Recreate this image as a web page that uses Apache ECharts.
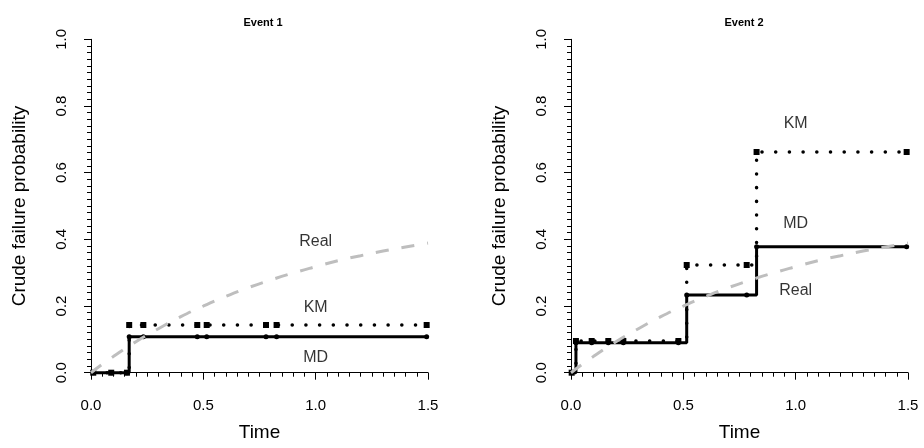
<!DOCTYPE html>
<html lang="en">
<head>
<meta charset="UTF-8">
<title>Crude failure probability</title>
<script src="https://cdn.jsdelivr.net/npm/echarts@6/dist/echarts.min.js"></script>
<style>
    html, body { margin: 0; padding: 0; background: #fff; }
    #chart { width: 924px; height: 448px; }
</style>
</head>
<body>
<div id="chart"></div>
<script>
    // Event 1: estimates at the observed times
    const time1 = [0.01, 0.09, 0.16, 0.17, 0.233, 0.473, 0.515, 0.779, 0.826, 1.494];
    const md1 = [0, 0, 0, 0.108, 0.108, 0.108, 0.108, 0.108, 0.108, 0.108];
    const km1 = [0, 0, 0, 0.143, 0.143, 0.143, 0.143, 0.143, 0.143, 0.143];

    // Event 2
    const time2 = [0.003, 0.022, 0.092, 0.166, 0.233, 0.478, 0.515, 0.782, 0.826, 1.494];
    const md2 = [0, 0.09, 0.09, 0.09, 0.09, 0.09, 0.233, 0.233, 0.378, 0.378];
    const km2 = [0, 0.095, 0.095, 0.095, 0.095, 0.095, 0.323, 0.323, 0.662, 0.662];

    // true curve (same in both panels)
    const realTime = [0, 0.1, 0.2, 0.3, 0.4, 0.5, 0.6, 0.7, 0.8, 0.9, 1.0, 1.1, 1.2, 1.3, 1.4, 1.5];
    const realProb = [0, 0.049, 0.093, 0.132, 0.168, 0.200, 0.229, 0.255, 0.278, 0.299, 0.318, 0.336, 0.351, 0.365, 0.377, 0.389];

    // text labels inside the panels
    const labels1 = ['Real', 'KM', 'MD'];
    const labelX1 = [1.0, 1.0, 1.0];
    const labelY1 = [0.393, 0.194, 0.044];
    const labels2 = ['KM', 'MD', 'Real'];
    const labelX2 = [1.0, 1.0, 1.0];
    const labelY2 = [0.746, 0.446, 0.246];

    const font = '"Liberation Sans", Arial, sans-serif';
    const pairs = (xs, ys) => xs.map((x, i) => [x, ys[i]]);

    function xAxisFor(idx) {
        return {
            gridIndex: idx, type: 'value', min: 0, max: 1.5, interval: 0.5, offset: 15,
            axisLine: {show: true, lineStyle: {color: '#000', width: 1}},
            axisTick: {show: true, length: 7, lineStyle: {color: '#000'}},
            minorTick: {show: true, splitNumber: 10, length: 4, lineStyle: {color: '#000'}},
            splitLine: {show: false},
            axisLabel: {color: '#000', fontSize: 15, fontFamily: font, margin: 11,
                showMinLabel: true, showMaxLabel: true, formatter: v => v.toFixed(1)},
            name: 'Time', nameLocation: 'middle', nameGap: 36,
            nameTextStyle: {color: '#000', fontSize: 19, fontFamily: font}
        };
    }

    function yAxisFor(idx) {
        return {
            gridIndex: idx, type: 'value', min: 0, max: 1, interval: 0.2, offset: 14,
            axisLine: {show: true, lineStyle: {color: '#000', width: 1}},
            axisTick: {show: true, length: 7, lineStyle: {color: '#000'}},
            minorTick: {show: true, splitNumber: 10, length: 4, lineStyle: {color: '#000'}},
            splitLine: {show: false},
            axisLabel: {color: '#000', fontSize: 15, fontFamily: font, margin: 8, rotate: 90,
                showMinLabel: true, showMaxLabel: true, formatter: v => v.toFixed(1)},
            name: 'Crude failure probability', nameLocation: 'middle', nameGap: 48,
            nameTextStyle: {color: '#000', fontSize: 19, fontFamily: font}
        };
    }

    function panelSeries(idx, t, md, km, lab, lx, ly) {
        return [
            {
                type: 'line', xAxisIndex: idx, yAxisIndex: idx, step: 'end', clip: false,
                data: pairs(t, km), symbol: 'rect', symbolSize: 6, showSymbol: true,
                itemStyle: {color: '#000'},
                lineStyle: {color: '#000', width: 3.5, type: [0.1, 13.6], cap: 'round'},
                z: 2
            },
            {
                type: 'line', xAxisIndex: idx, yAxisIndex: idx, step: 'end', clip: false,
                data: pairs(t, md), symbol: 'circle', symbolSize: 5, showSymbol: true,
                itemStyle: {color: '#000'},
                lineStyle: {color: '#000', width: 3},
                z: 3
            },
            {
                type: 'line', xAxisIndex: idx, yAxisIndex: idx, clip: false, smooth: true,
                data: pairs(realTime, realProb), showSymbol: false,
                lineStyle: {color: '#bebebe', width: 3, type: [13, 13]},
                z: 4
            },
            {
                type: 'scatter', xAxisIndex: idx, yAxisIndex: idx, symbolSize: 1,
                itemStyle: {color: 'rgba(0,0,0,0)'},
                data: lab.map((n, i) => ({name: n, value: [lx[i], ly[i]]})),
                label: {show: true, position: 'inside', formatter: '{b}', color: '#000',
                    textBorderWidth: 0, fontSize: 16, fontFamily: font},
                z: 5
            }
        ];
    }

    const option = {
        backgroundColor: '#fff',
        animation: false,
        title: [
            {text: 'Event 1', left: 258, top: 12, textAlign: 'center',
                textStyle: {fontSize: 11, fontWeight: 'bold', color: '#000', fontFamily: font}},
            {text: 'Event 2', left: 739, top: 12, textAlign: 'center',
                textStyle: {fontSize: 11, fontWeight: 'bold', color: '#000', fontFamily: font}}
        ],
        grid: [
            {left: 91, top: 39.3, width: 337, height: 333.4},
            {left: 571, top: 39.3, width: 337, height: 333.4}
        ],
        xAxis: [xAxisFor(0), xAxisFor(1)],
        yAxis: [yAxisFor(0), yAxisFor(1)],
        series: [].concat(
            panelSeries(0, time1, md1, km1, labels1, labelX1, labelY1),
            panelSeries(1, time2, md2, km2, labels2, labelX2, labelY2)
        )
    };

    let chart = echarts.init(document.getElementById('chart'));
    chart.setOption(option);
</script>
</body>
</html>
